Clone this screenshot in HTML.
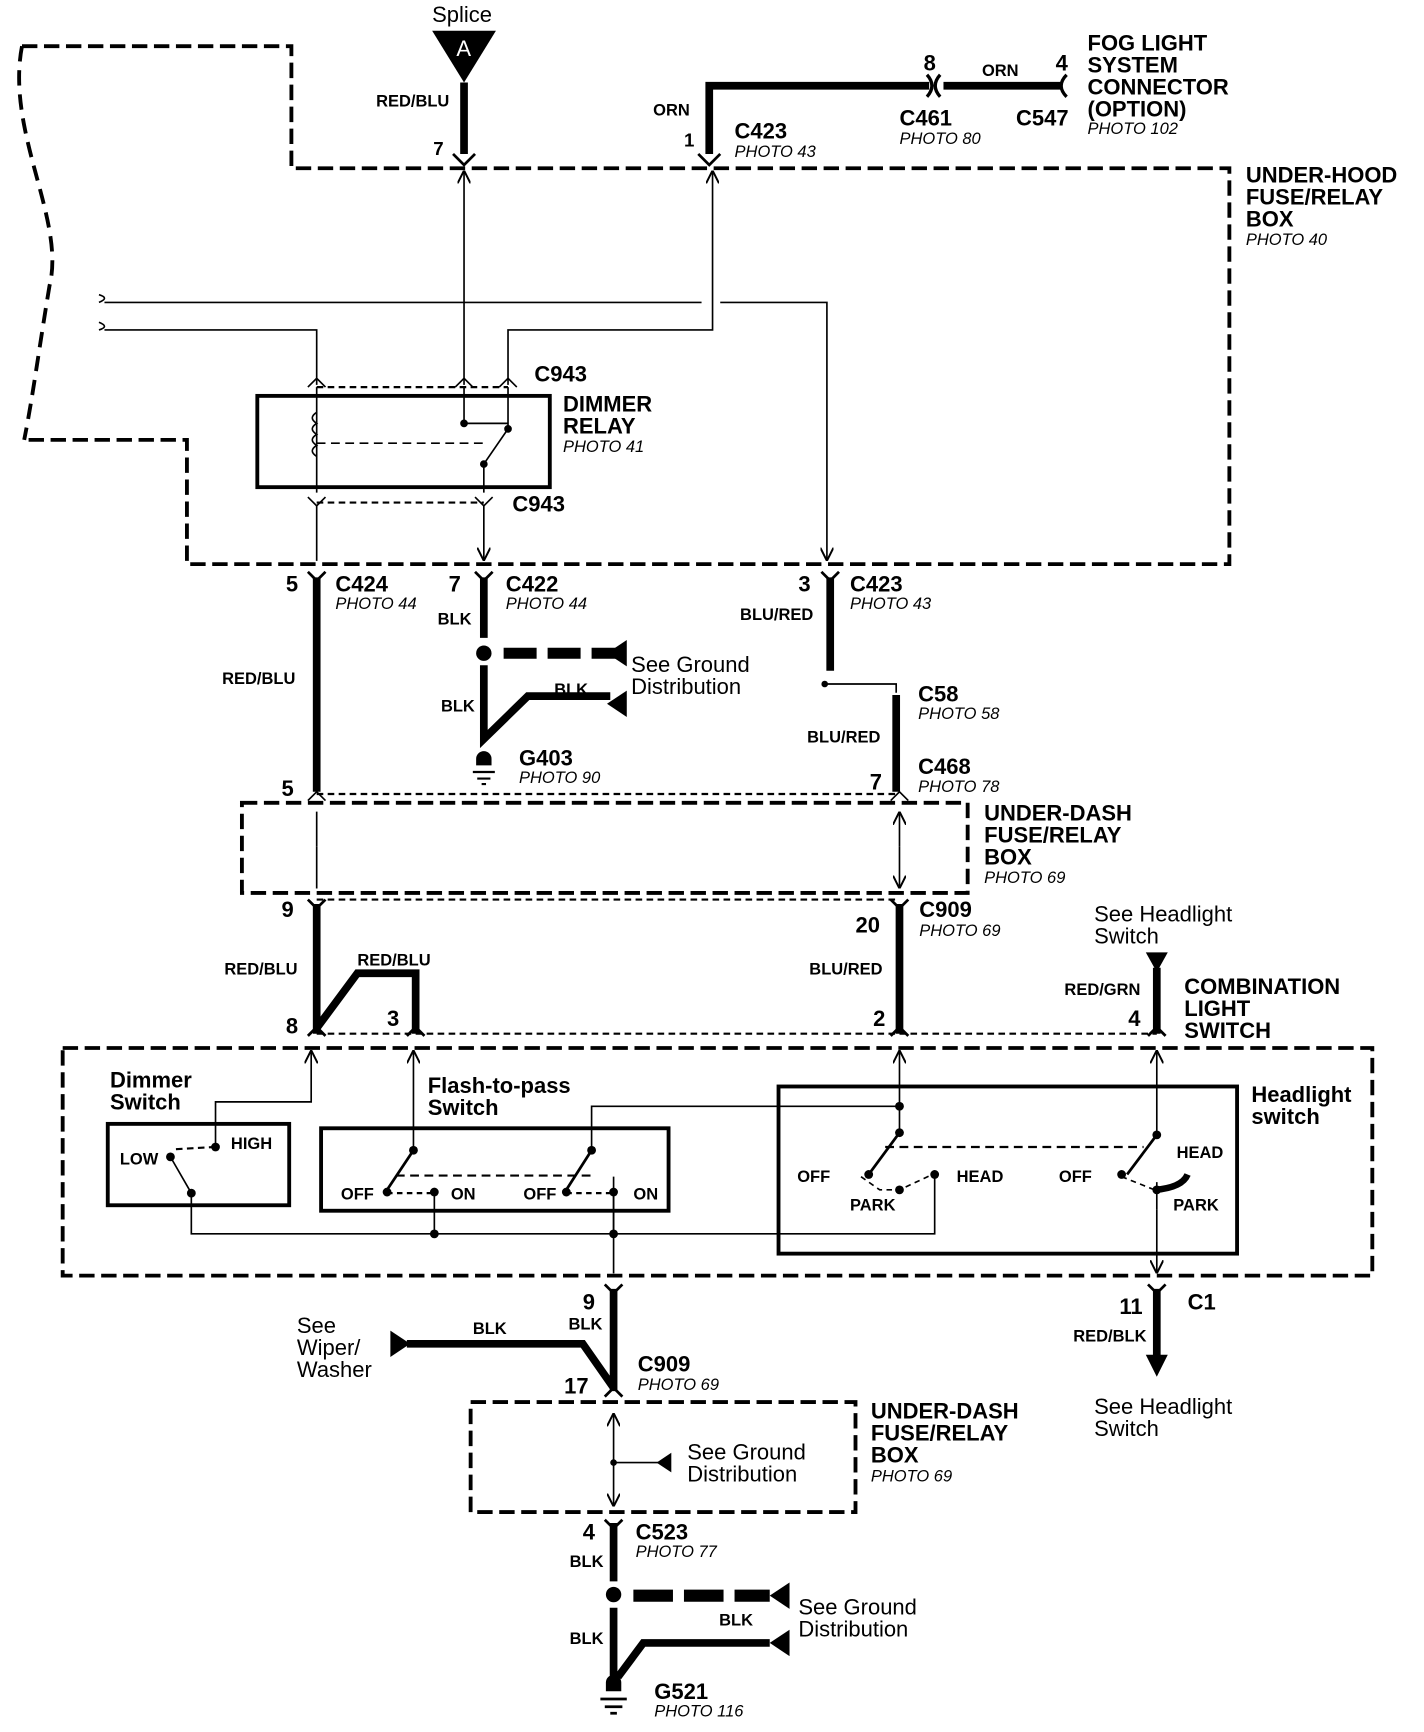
<!DOCTYPE html>
<html><head><meta charset="utf-8"><style>
html,body{margin:0;padding:0;background:#fff;}
svg{display:block;}
text{font-family:"Liberation Sans",sans-serif;fill:#000;}
.b{font-weight:bold;font-size:20px;}
.s{font-weight:bold;font-size:15px;}
.i{font-style:italic;font-size:15px;}
.n{font-size:20px;}
</style></head><body>
<svg width="1424" height="1732" viewBox="0 0 1295 1575" preserveAspectRatio="none" xmlns="http://www.w3.org/2000/svg">
<defs>
<marker id="a" viewBox="0 0 10 10" refX="10" refY="5" markerWidth="8" markerHeight="8" orient="auto"><path d="M0,0 L10,5 L0,10" fill="none" stroke="#000" stroke-width="1.5"/></marker>
</defs>
<g fill="none" stroke="#000">
<path d="M20,42 L265,42 L265,153 L1118,153 L1118,513 L170,513 L170,400 L22,400" stroke-width="3.5" stroke-dasharray="14,6"/>
<path d="M20,42 C5,120 60,200 45,260 C35,320 30,360 22,400" stroke-width="3.5" stroke-dasharray="14,8"/>
<path d="M422,75 L422,140" stroke-width="7"/>
<path d="M412,140 L422,150 L432,140" stroke-width="2.5"/>
<path d="M645,140 L645,78 L845,78" stroke-width="7"/>
<path d="M843,68 Q852,78 843,88" stroke-width="3"/>
<path d="M855,68 Q846,78 855,88" stroke-width="3"/>
<path d="M858,78 L965,78" stroke-width="7"/>
<path d="M970,68 Q960,78 970,88" stroke-width="3"/>
<path d="M635,140 L645,150 L655,140" stroke-width="2.5"/>
<path d="M422,350 L422,155" stroke-width="1.5" marker-end="url(#a)"/>
<path d="M462,350 L462,300 L648,300 L648,155" stroke-width="1.5" marker-end="url(#a)"/>
<path d="M95,275 L638,275 M655,275 L752,275 L752,510" stroke-width="1.5" marker-end="url(#a)"/>
<path d="M95,300 L288,300 L288,350" stroke-width="1.5"/>
<path d="M90,268 Q100,271 90,275 M90,293 Q100,297 90,300" stroke-width="1.5"/>
<path d="M280,352 L288,344 L296,352 M414,352 L422,344 L430,352 M454,352 L462,344 L470,352" stroke-width="1.5"/>
<path d="M288,352 L462,352" stroke-width="2" stroke-dasharray="6,4"/>
<rect x="234" y="360" width="266" height="83" stroke-width="3.5"/>
<path d="M288,352 L288,448" stroke-width="1.5"/>
<path d="M288,375 q-8,5 0,10 q-8,5 0,10 q-8,5 0,10 q-8,5 0,10" stroke-width="1.5"/>
<path d="M288,403 L440,403" stroke-width="1.5" stroke-dasharray="8,5"/>
<path d="M422,352 L422,385 L462,385 M462,352 L462,390 L440,422 L440,448" stroke-width="1.5"/>
<circle cx="422" cy="385" r="3" fill="#000"/><circle cx="462" cy="390" r="3" fill="#000"/><circle cx="440" cy="422" r="3" fill="#000"/>
<path d="M280,452 L288,460 L296,452 M432,452 L440,460 L448,452" stroke-width="1.5"/>
<path d="M288,457 L440,457" stroke-width="2" stroke-dasharray="6,4"/>
<path d="M288,460 L288,510 M440,460 L440,510" stroke-width="1.5" marker-end="url(#a)"/>
<path d="M280,520 L288,528 L296,520 M432,520 L440,528 L448,520 M747,520 L755,528 L763,520" stroke-width="2.5"/>
<path d="M288,525 L288,720" stroke-width="7"/>
<path d="M440,525 L440,580" stroke-width="7"/>
<path d="M458,594 L560,594" stroke-width="10" stroke-dasharray="30,10"/>
<path d="M440,605 L440,672 L480,633 L555,633" stroke-width="7"/>
<path d="M755,525 L755,610" stroke-width="7"/>
<path d="M750,622 L815,622 L815,630" stroke-width="1.5"/>
<path d="M815,632 L815,720" stroke-width="7"/>
<path d="M220,730 L880,730 L880,812 L220,812 Z" stroke-width="3.5" stroke-dasharray="14,6"/>
<path d="M280,728 L288,720 L296,728 M810,728 L818,720 L826,728" stroke-width="1.5"/>
<path d="M288,770 L288,738 M818,770 L818,738" stroke-width="1.5" marker-end="url(#a)"/>
<path d="M288,770 L288,808 M818,770 L818,808" stroke-width="1.5" marker-end="url(#a)"/>
<path d="M288,722 L818,722" stroke-width="2" stroke-dasharray="6,4"/>
<path d="M288,818 L818,818" stroke-width="2" stroke-dasharray="6,4"/>
<path d="M280,818 L288,826 L296,818 M810,818 L818,826 L826,818" stroke-width="2.5"/>
<path d="M288,822 L288,940 M818,822 L818,940" stroke-width="7"/>
<path d="M288,935 L325,885 L378,885 L378,940" stroke-width="7"/>
<path d="M1052,880 L1052,940" stroke-width="7"/>
<path d="M280,942 L288,934 L296,942 M370,942 L378,934 L386,942 M810,942 L818,934 L826,942 M1044,942 L1052,934 L1060,942" stroke-width="2.5"/>
<path d="M288,940 L1052,940" stroke-width="2" stroke-dasharray="6,4"/>
<path d="M57,953 L1248,953 L1248,1160 L57,1160 Z" stroke-width="3.5" stroke-dasharray="14,6"/>
<rect x="98" y="1022" width="165" height="74" stroke-width="3.5"/>
<rect x="292" y="1026" width="316" height="75" stroke-width="3.5"/>
<rect x="708" y="988" width="417" height="152" stroke-width="3.5"/>
<path d="M196,1043 L196,1002 L283,1002 L283,955" stroke-width="1.5" marker-end="url(#a)"/>
<path d="M376,1046 L376,955" stroke-width="1.5" marker-end="url(#a)"/>
<path d="M818,1030 L818,955" stroke-width="1.5" marker-end="url(#a)"/>
<path d="M1052,1032 L1052,955" stroke-width="1.5" marker-end="url(#a)"/>
<path d="M538,1046 L538,1006 L818,1006" stroke-width="1.5"/>
<path d="M155,1052 L174,1085 L174,1122 L850,1122 L850,1068 M558,1070 L558,1122 M1052,1075 L1052,1100" stroke-width="1.5"/>
<path d="M558,1120 L558,1158 M1052,1100 L1052,1158" stroke-width="1.5" marker-end="url(#a)"/>
<path d="M160,1045 L196,1043" stroke-width="2" stroke-dasharray="6,4"/>
<path d="M376,1046 L352,1082 M538,1046 L515,1082" stroke-width="2.5"/>
<path d="M360,1069 L538,1069" stroke-width="2" stroke-dasharray="8,5"/>
<path d="M352,1085 L395,1085 M515,1085 L558,1085" stroke-width="2" stroke-dasharray="5,4"/>
<path d="M395,1083 L395,1122 M558,1083 L558,1122" stroke-width="1.5"/>
<path d="M818,1030 L790,1068 M1052,1032 L1025,1068" stroke-width="2.5"/>
<path d="M805,1043 L1040,1043" stroke-width="2" stroke-dasharray="8,5"/>
<path d="M783,1070 L800,1082 L818,1082 L848,1068" stroke-width="1.5" stroke-dasharray="5,4"/>
<path d="M1020,1070 L1050,1082" stroke-width="1.5" stroke-dasharray="5,4"/>
<path d="M1050,1082 Q1075,1080 1080,1068" stroke-width="6"/>
<g fill="#000" stroke="none">
<circle cx="196" cy="1043" r="4"/><circle cx="155" cy="1052" r="4"/><circle cx="174" cy="1085" r="4"/>
<circle cx="376" cy="1046" r="4"/><circle cx="352" cy="1084" r="4"/><circle cx="395" cy="1084" r="4"/>
<circle cx="538" cy="1046" r="4"/><circle cx="515" cy="1084" r="4"/><circle cx="558" cy="1084" r="4"/>
<circle cx="395" cy="1122" r="4"/><circle cx="558" cy="1122" r="4"/>
<circle cx="818" cy="1006" r="4"/><circle cx="818" cy="1030" r="4"/><circle cx="790" cy="1068" r="4"/><circle cx="818" cy="1082" r="4"/><circle cx="850" cy="1068" r="4"/>
<circle cx="1052" cy="1032" r="4"/><circle cx="1020" cy="1068" r="4"/><circle cx="1052" cy="1082" r="4"/>
<circle cx="440" cy="594" r="7"/><circle cx="750" cy="622" r="3"/>
<circle cx="558" cy="1450" r="7"/><circle cx="558" cy="1330" r="3"/>
<path d="M393,28 L451,28 L422,75 Z"/>
<path d="M1042,866 L1062,866 L1052,884 Z"/>
<path d="M570,582 L570,606 L552,594 Z"/>
<path d="M570,628 L570,652 L552,640 Z"/>
<path d="M355,1210 L355,1234 L373,1222 Z"/>
<path d="M718,1439 L718,1463 L700,1451 Z"/>
<path d="M718,1482 L718,1506 L700,1494 Z"/>
<path d="M1042,1232 L1062,1232 L1052,1252 Z"/>
<path d="M433,690 a7,7 0 0 1 14,0 l0,6 l-14,0 Z"/>
<path d="M551,1530 a7,7 0 0 1 14,0 l0,8 l-14,0 Z"/>
</g>
<path d="M430,702 L450,702 M434,708 L446,708 M438,713 L442,713" stroke-width="2"/>
<path d="M546,1545 L570,1545 M550,1552 L566,1552 M555,1558 L561,1558" stroke-width="2.5"/>
<path d="M550,1168 L558,1176 L566,1168 M1044,1168 L1052,1176 L1060,1168" stroke-width="2.5"/>
<path d="M558,1172 L558,1265 M370,1222 L530,1222 L558,1262" stroke-width="7"/>
<path d="M1052,1172 L1052,1236" stroke-width="7"/>
<path d="M428,1275 L778,1275 L778,1375 L428,1375 Z" stroke-width="3.5" stroke-dasharray="14,6"/>
<path d="M550,1270 L558,1262 L566,1270" stroke-width="2.5"/>
<path d="M558,1330 L558,1285" stroke-width="1.5" marker-end="url(#a)"/>
<path d="M558,1330 L558,1370" stroke-width="1.5" marker-end="url(#a)"/>
<path d="M558,1330 L608,1330" stroke-width="1.5"/>
<path d="M610,1322 L610,1338 L598,1330 Z" fill="#000"/>
<path d="M550,1382 L558,1390 L566,1382" stroke-width="2.5"/>
<path d="M558,1385 L558,1438 M558,1462 L558,1528 M562,1525 L585,1494 L700,1494" stroke-width="7"/>
<path d="M576,1451 L700,1451" stroke-width="11" stroke-dasharray="36,10"/>
</g>
<text x="393" y="20" class="n">Splice</text>
<text x="415" y="51" class="n" style="fill:#fff">A</text>
<text x="342" y="97" class="s">RED/BLU</text>
<text x="394" y="141" class="s" style="font-size:17px">7</text>
<text x="594" y="105" class="s">ORN</text>
<text x="622" y="133" class="s" style="font-size:17px">1</text>
<text x="668" y="126" class="b">C423</text><text x="668" y="143" class="i">PHOTO 43</text>
<text x="840" y="64" class="b">8</text><text x="893" y="69" class="s">ORN</text><text x="960" y="64" class="b">4</text>
<text x="818" y="114" class="b">C461</text><text x="818" y="131" class="i">PHOTO 80</text>
<text x="924" y="114" class="b">C547</text>
<text x="989" y="46" class="b">FOG LIGHT</text><text x="989" y="66" class="b">SYSTEM</text><text x="989" y="86" class="b">CONNECTOR</text><text x="989" y="106" class="b">(OPTION)</text><text x="989" y="122" class="i">PHOTO 102</text>
<text x="1133" y="166" class="b">UNDER-HOOD</text><text x="1133" y="186" class="b">FUSE/RELAY</text><text x="1133" y="206" class="b">BOX</text><text x="1133" y="223" class="i">PHOTO 40</text>
<text x="486" y="347" class="b">C943</text>
<text x="512" y="374" class="b">DIMMER</text><text x="512" y="394" class="b">RELAY</text><text x="512" y="411" class="i">PHOTO 41</text>
<text x="466" y="465" class="b">C943</text>
<text x="260" y="538" class="b">5</text><text x="305" y="538" class="b">C424</text><text x="305" y="554" class="i">PHOTO 44</text>
<text x="408" y="538" class="b">7</text><text x="460" y="538" class="b">C422</text><text x="460" y="554" class="i">PHOTO 44</text>
<text x="726" y="538" class="b">3</text><text x="773" y="538" class="b">C423</text><text x="773" y="554" class="i">PHOTO 43</text>
<text x="398" y="568" class="s">BLK</text><text x="673" y="564" class="s">BLU/RED</text>
<text x="202" y="622" class="s">RED/BLU</text>
<text x="574" y="611" class="n">See Ground</text><text x="574" y="631" class="n">Distribution</text>
<text x="504" y="632" class="s">BLK</text><text x="401" y="647" class="s">BLK</text>
<text x="835" y="638" class="b">C58</text><text x="835" y="654" class="i">PHOTO 58</text>
<text x="734" y="675" class="s">BLU/RED</text>
<text x="472" y="696" class="b">G403</text><text x="472" y="712" class="i">PHOTO 90</text>
<text x="835" y="704" class="b">C468</text><text x="835" y="720" class="i">PHOTO 78</text>
<text x="256" y="724" class="b">5</text><text x="791" y="718" class="b">7</text>
<text x="895" y="746" class="b">UNDER-DASH</text><text x="895" y="766" class="b">FUSE/RELAY</text><text x="895" y="786" class="b">BOX</text><text x="895" y="803" class="i">PHOTO 69</text>
<text x="256" y="834" class="b">9</text><text x="778" y="848" class="b">20</text>
<text x="836" y="834" class="b">C909</text><text x="836" y="851" class="i">PHOTO 69</text>
<text x="995" y="838" class="n">See Headlight</text><text x="995" y="858" class="n">Switch</text>
<text x="325" y="878" class="s">RED/BLU</text><text x="204" y="886" class="s">RED/BLU</text><text x="736" y="886" class="s">BLU/RED</text>
<text x="968" y="905" class="s">RED/GRN</text>
<text x="1077" y="904" class="b">COMBINATION</text><text x="1077" y="924" class="b">LIGHT</text><text x="1077" y="944" class="b">SWITCH</text>
<text x="260" y="940" class="b">8</text><text x="352" y="933" class="b">3</text><text x="794" y="933" class="b">2</text><text x="1026" y="933" class="b">4</text>
<text x="100" y="989" class="b">Dimmer</text><text x="100" y="1009" class="b">Switch</text>
<text x="389" y="994" class="b">Flash-to-pass</text><text x="389" y="1014" class="b">Switch</text>
<text x="1138" y="1002" class="b">Headlight</text><text x="1138" y="1022" class="b">switch</text>
<text x="210" y="1045" class="s">HIGH</text><text x="109" y="1059" class="s">LOW</text>
<text x="1070" y="1053" class="s">HEAD</text>
<text x="725" y="1075" class="s">OFF</text><text x="870" y="1075" class="s">HEAD</text><text x="963" y="1075" class="s">OFF</text>
<text x="310" y="1091" class="s">OFF</text><text x="410" y="1091" class="s">ON</text><text x="476" y="1091" class="s">OFF</text><text x="576" y="1091" class="s">ON</text>
<text x="773" y="1101" class="s">PARK</text><text x="1067" y="1101" class="s">PARK</text>
<text x="530" y="1191" class="b">9</text><text x="1018" y="1195" class="b">11</text><text x="1080" y="1191" class="b">C1</text>
<text x="517" y="1209" class="s">BLK</text><text x="430" y="1213" class="s">BLK</text><text x="976" y="1220" class="s">RED/BLK</text>
<text x="270" y="1212" class="n">See</text><text x="270" y="1232" class="n">Wiper/</text><text x="270" y="1252" class="n">Washer</text>
<text x="580" y="1247" class="b">C909</text><text x="580" y="1264" class="i">PHOTO 69</text>
<text x="513" y="1267" class="b">17</text>
<text x="995" y="1286" class="n">See Headlight</text><text x="995" y="1306" class="n">Switch</text>
<text x="792" y="1290" class="b">UNDER-DASH</text><text x="792" y="1310" class="b">FUSE/RELAY</text><text x="792" y="1330" class="b">BOX</text><text x="792" y="1347" class="i">PHOTO 69</text>
<text x="625" y="1327" class="n">See Ground</text><text x="625" y="1347" class="n">Distribution</text>
<text x="530" y="1400" class="b">4</text><text x="578" y="1400" class="b">C523</text><text x="578" y="1416" class="i">PHOTO 77</text>
<text x="518" y="1425" class="s">BLK</text>
<text x="726" y="1468" class="n">See Ground</text><text x="726" y="1488" class="n">Distribution</text>
<text x="654" y="1478" class="s">BLK</text><text x="518" y="1495" class="s">BLK</text>
<text x="595" y="1545" class="b">G521</text><text x="595" y="1561" class="i">PHOTO 116</text>
</svg>
</body></html>
